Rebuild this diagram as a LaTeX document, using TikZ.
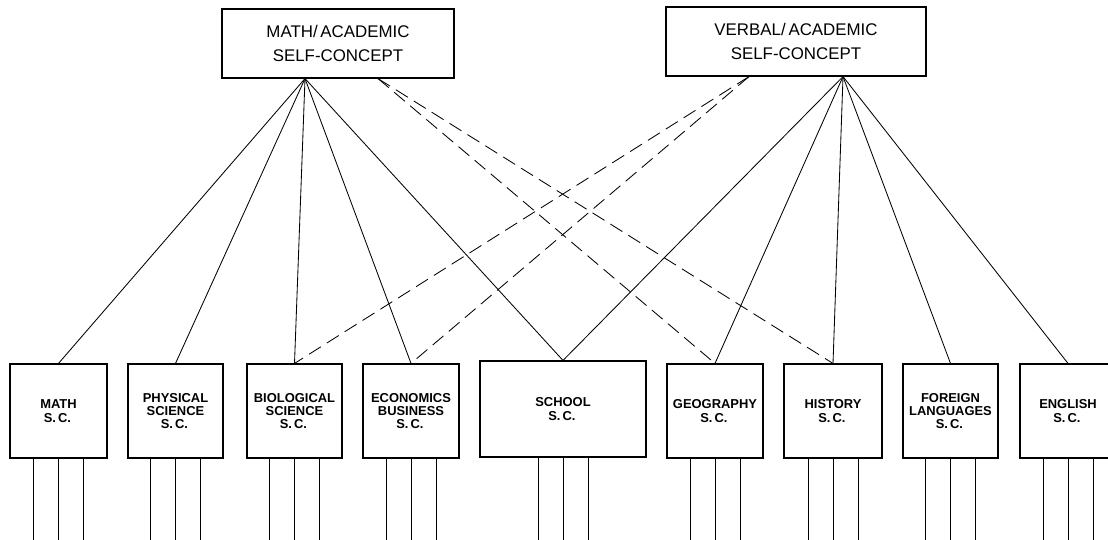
\documentclass[tikz,border=0pt]{standalone}
\usepackage{fontspec}
\setmainfont{Liberation Sans}
\usetikzlibrary{positioning,calc}

\begin{document}
\begin{tikzpicture}[x=0.025cm, y=-0.025cm,
  topbox/.style={draw, thick, inner sep=0pt, minimum height=1.725cm, align=center,
    font=\fontsize{12}{17.5}\selectfont},
  subbox/.style={draw, thick, inner sep=0pt, minimum width=2.4cm, minimum height=2.35cm,
    align=center, font=\fontsize{9.2}{9.4}\selectfont\bfseries},
  link/.style={semithick},
  crosslink/.style={semithick, dash pattern=on 10pt off 5pt}]
% page: 1108 x 539 px, y grows downwards
\clip (0,0) rectangle (1108,539);
% two higher-order facets
\node[topbox, minimum width=5.8cm] (mathac) at (338,43.5) {MATH/\,ACADEMIC\\SELF-CONCEPT};
\node[topbox, minimum width=6.5cm] (verbac) at (796,41.5) {VERBAL/\,ACADEMIC\\SELF-CONCEPT};
% subject self-concepts, all on one row (centres at y = 411)
\node[subbox, minimum width=2.425cm] (math) at (58.5,411) {MATH\\S.\,C.\,};
\node[subbox, minimum width=2.375cm] (phys) at (175.5,411) {PHYSICAL\\SCIENCE\\S.\,C.\,};
\node[subbox, minimum width=2.375cm] (bio) at (294.5,411) {BIOLOGICAL\\SCIENCE\\S.\,C.\,};
\node[subbox] (econ) at (411,411) {ECONOMICS\\BUSINESS\\S.\,C.\,};
\node[subbox, minimum width=4.15cm, minimum height=2.4cm] (school) at (563,409) {SCHOOL\\S.\,C.\,};
\node[subbox] (geo) at (715,411) {GEOGRAPHY\\S.\,C.\,};
\node[subbox, minimum width=2.45cm] (hist) at (833,411) {HISTORY\\S.\,C.\,};
\node[subbox, minimum width=2.375cm] (forn) at (950.5,411) {FOREIGN\\LANGUAGES\\S.\,C.\,};
\node[subbox] (engl) at (1068,411) {ENGLISH\\S.\,C.\,};
% where the lines leave the two upper boxes
\coordinate (mathApex) at ($(mathac.south)+(-33,0)$);
\coordinate (mathCross) at ($(mathac.south)+(40,0)$);
\coordinate (verbApex) at ($(verbac.south)+(47,0)$);
\coordinate (verbCross) at ($(verbac.south)+(-47,0)$);
% solid paths
\foreach \n in {math,phys,bio,econ,school}
  \draw[link] (mathApex) -- (\n.north);
\foreach \n in {school,geo,hist,forn,engl}
  \draw[link] (verbApex) -- (\n.north);
% dashed paths
\foreach \n in {geo,hist}
  \draw[crosslink] (mathCross) -- (\n.north);
\foreach \n in {bio,econ}
  \draw[crosslink] (verbCross) -- (\n.north);
% three indicators under every box
\foreach \n in {math,phys,bio,econ,school,geo,hist,forn,engl}
  \foreach \dx in {-25,0,25}
    \draw[link] ($(\n.south)+(\dx,0)$) -- ++(0,90);
\end{tikzpicture}
\end{document}
